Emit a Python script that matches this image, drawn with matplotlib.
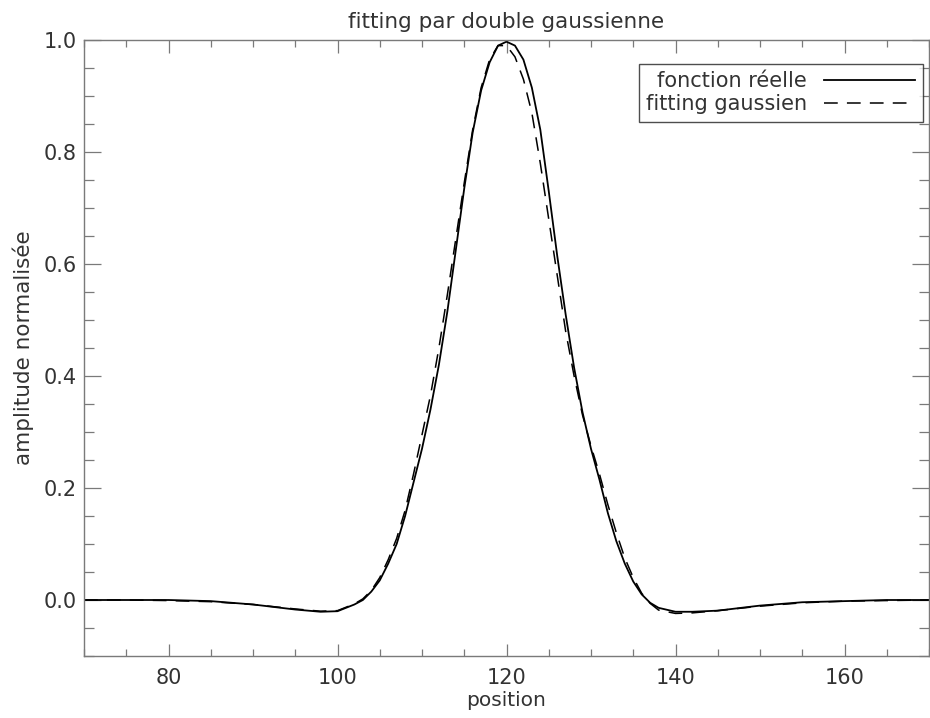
import matplotlib
matplotlib.use("Agg")
import matplotlib.pyplot as plt
from matplotlib.ticker import MultipleLocator

# valeurs
position = [70, 75, 80, 85, 90, 95, 98, 100, 102, 103, 104, 105, 106, 107, 108, 109,
            110, 111, 112, 113, 114, 115, 116, 117, 118, 119, 120, 121, 122, 123, 124,
            125, 126, 127, 128, 129, 130, 131, 132, 133, 134, 135, 136, 137, 138, 140,
            142, 145, 150, 155, 160, 165, 170]

reelle = [0.0, 0.0, 0.0, -0.002, -0.008, -0.017, -0.021, -0.020, -0.008, 0.0, 0.015,
          0.035, 0.065, 0.10, 0.15, 0.21, 0.27, 0.34, 0.42, 0.515, 0.625, 0.735, 0.835,
          0.91, 0.96, 0.99, 0.997, 0.99, 0.965, 0.915, 0.84, 0.73, 0.615, 0.51, 0.415,
          0.335, 0.27, 0.215, 0.155, 0.105, 0.065, 0.033, 0.01, -0.005, -0.014, -0.021,
          -0.021, -0.019, -0.010, -0.004, -0.002, 0.0, 0.0]

fit_gauss = [0.0, 0.0, -0.001, -0.003, -0.008, -0.016, -0.020, -0.019, -0.007, 0.002,
             0.017, 0.04, 0.072, 0.11, 0.16, 0.225, 0.295, 0.365, 0.45, 0.545, 0.645,
             0.745, 0.84, 0.915, 0.965, 0.99, 0.99, 0.97, 0.93, 0.87, 0.78, 0.68, 0.58,
             0.48, 0.40, 0.33, 0.275, 0.225, 0.17, 0.12, 0.075, 0.04, 0.012, -0.006,
             -0.018, -0.024, -0.023, -0.019, -0.011, -0.005, -0.002, -0.001, 0.0]

grey = "#7a7a7a"
txt = "#333333"
plt.rcParams["font.family"] = ["DejaVu Sans"]

fig = plt.figure(figsize=(9.3, 7.18), dpi=100)
ax = fig.add_axes([84 / 930, 1 - 656 / 718, 845 / 930, 616 / 718])

ax.plot(position, reelle, color="black", lw=1.3, label="fonction réelle")
ax.plot(position, fit_gauss, color="black", lw=1.1, dashes=(9, 6), label="fitting gaussien")

ax.set_xlim(70, 170)
ax.set_ylim(-0.1, 1.0)
ax.xaxis.set_major_locator(MultipleLocator(20))
ax.xaxis.set_minor_locator(MultipleLocator(5))
ax.yaxis.set_major_locator(MultipleLocator(0.2))
ax.yaxis.set_minor_locator(MultipleLocator(0.05))
ax.yaxis.set_major_formatter(lambda v, p: "%.1f" % (0.0 if abs(v) < 1e-9 else v))

for s in ax.spines.values():
    s.set_color(grey)
    s.set_linewidth(1.0)

ax.tick_params(axis="both", which="both", direction="in", top=True, right=True,
               color=grey, width=0.9, labelcolor=txt, labelsize=15)
ax.tick_params(axis="x", which="major", length=9, pad=9)
ax.tick_params(axis="x", which="minor", length=5)
ax.tick_params(axis="y", which="major", length=12.5, pad=5)
ax.tick_params(axis="y", which="minor", length=7.5)

ax.set_title("fitting par double gaussienne", fontsize=15.5, color=txt, pad=9)
ax.set_xlabel("position", fontsize=14.5, color=txt, labelpad=2)
ax.set_ylabel("amplitude normalisée", fontsize=15.5, color=txt, labelpad=7)

leg = ax.legend(loc="upper right", bbox_to_anchor=(0.9925, 0.961), borderaxespad=0,
                markerfirst=False, fancybox=False, frameon=True, fontsize=15,
                handlelength=4.4, handletextpad=0.8, labelspacing=0.15, borderpad=0.35,
                labelcolor=txt)
leg.get_frame().set_edgecolor("#222222")
leg.get_frame().set_linewidth(1.0)

fig.savefig("out.png", dpi=100)
